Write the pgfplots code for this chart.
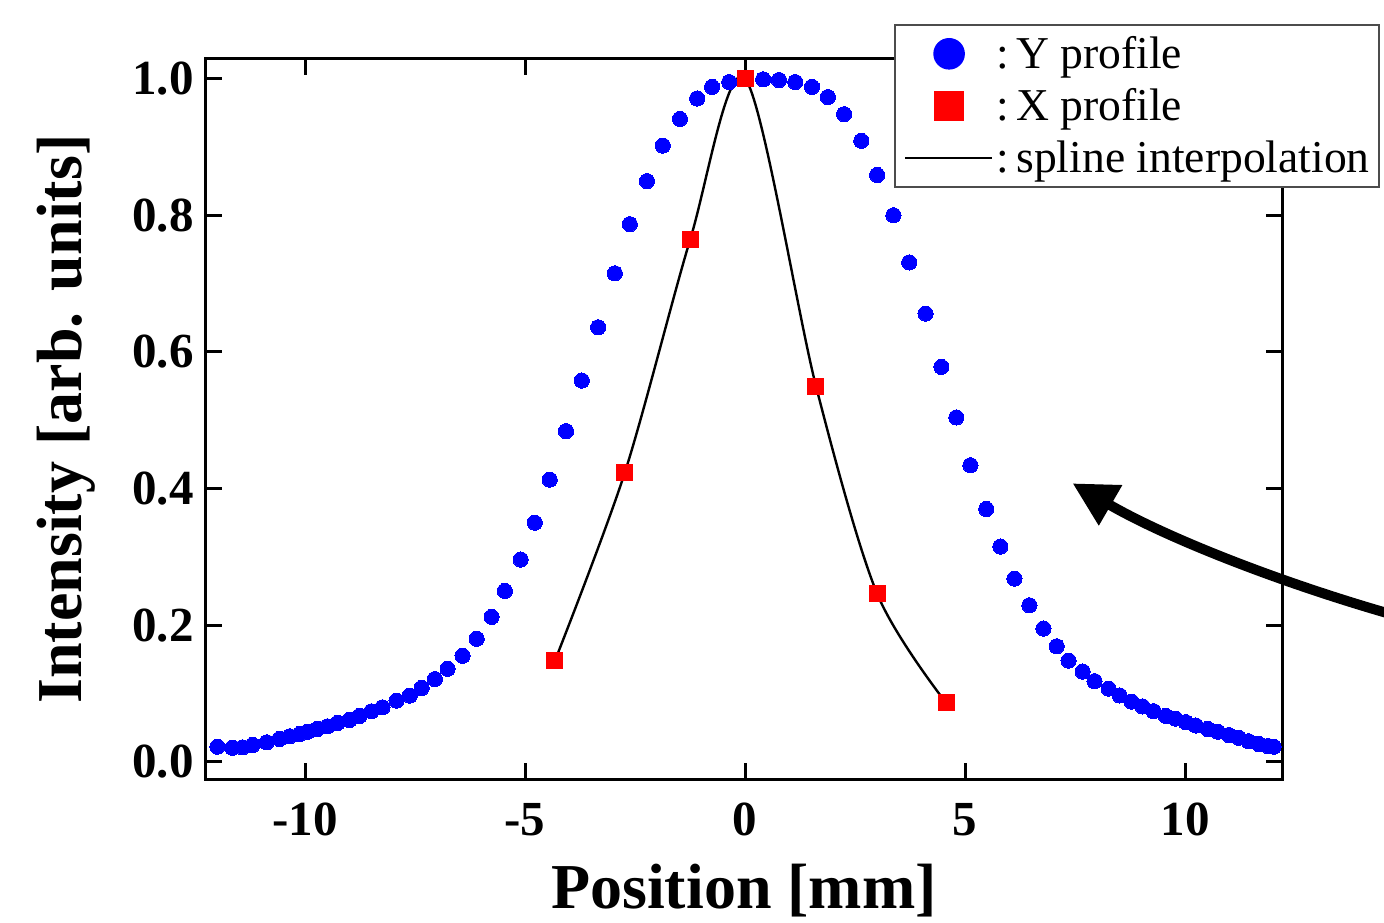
\documentclass[border=0pt]{standalone}
\usepackage{fontspec}
\setmainfont{Liberation Serif}
\usepackage{pgfplots}
\usepackage{pgfplotstable}
\pgfplotsset{compat=1.18}
\usetikzlibrary{arrows.meta}

% measured vertical profile
\pgfplotstableread{
x y
-11.99 0.022
-11.65 0.0205
-11.42 0.021
-11.19 0.0245
-10.87 0.0284
-10.58 0.0333
-10.35 0.0372
-10.12 0.0406
-9.94 0.044
-9.72 0.048
-9.49 0.0518
-9.26 0.0568
-8.99 0.0612
-8.76 0.067
-8.49 0.0738
-8.24 0.0796
-7.92 0.0894
-7.62 0.0968
-7.35 0.108
-7.05 0.121
-6.76 0.136
-6.42 0.155
-6.10 0.180
-5.76 0.212
-5.46 0.250
-5.10 0.296
-4.78 0.350
-4.44 0.413
-4.07 0.484
-3.71 0.558
-3.34 0.636
-2.96 0.715
-2.62 0.787
-2.23 0.850
-1.87 0.902
-1.48 0.941
-1.09 0.971
-0.75 0.988
-0.36 0.995
0.02 0.999
0.41 0.999
0.77 0.998
1.14 0.995
1.52 0.988
1.88 0.973
2.25 0.948
2.64 0.909
3.00 0.859
3.37 0.800
3.73 0.731
4.10 0.656
4.46 0.578
4.80 0.504
5.12 0.434
5.48 0.370
5.80 0.315
6.12 0.268
6.46 0.229
6.78 0.195
7.08 0.169
7.35 0.148
7.67 0.132
7.94 0.118
8.26 0.107
8.51 0.097
8.78 0.088
9.03 0.081
9.28 0.074
9.56 0.067
9.78 0.063
10.01 0.058
10.24 0.053
10.51 0.048
10.74 0.044
10.99 0.039
11.22 0.035
11.44 0.030
11.67 0.026
11.88 0.023
12.01 0.022
}\yprofile

% measured horizontal profile
\pgfplotstableread{
x y
-4.32 0.148
-2.73 0.424
-1.25 0.764
0.00 1.000
1.61 0.550
3.00 0.246
4.57 0.086
}\xprofile

\begin{document}
\begin{tikzpicture}
\begin{axis}[
  at={(0,0)}, anchor=south west,
  scale only axis, width=538pt, height=360pt,
  xmin=-12.25, xmax=12.2, ymin=-0.0253, ymax=1.0288,
  axis line style={line width=1.5pt},
  tick style={line width=1.5pt, black},
  major tick length=8pt,
  tick align=inside,
  xtick={-10,-5,0,5,10}, xticklabels={-10,-5,0,5,10},
  ytick={0,0.2,0.4,0.6,0.8,1.0}, yticklabels={0.0,0.2,0.4,0.6,0.8,1.0},
  minor tick num=0,
  ticklabel style={font=\fontsize{24.5}{29}\selectfont\bfseries},
  xticklabel style={inner sep=0pt, yshift=-12pt},
  yticklabel style={inner sep=0pt, xshift=-6pt},
  xlabel={Position [mm]}, ylabel={Intensity [arb. units]},
  label style={font=\fontsize{32}{38}\selectfont\bfseries, inner sep=0pt},
  xlabel style={at={(axis description cs:0.5,-0.118)}, anchor=north},
  ylabel style={at={(axis description cs:-0.157,0.5)}, anchor=north},
  clip=false,
  legend cell align=left,
  legend style={
    at={(axis description cs:0.6394,1.0486)}, anchor=north west,
    draw=black!70, line width=0.8pt, fill=white,
    inner xsep=4.5pt, inner ysep=4pt,
    row sep=5pt, column sep=1.5pt,
    font=\fontsize{22.8}{27}\selectfont,
    nodes={inner sep=0pt, text height=18pt, text depth=3pt},
  },
]
\addplot[only marks, mark=*, mark size=3.8pt, blue,
  mark options={fill=blue, draw=blue, line width=0pt},
  legend image code/.code={\path[draw=none, fill=none] (0,-8pt) rectangle (43.5pt,8pt);
    \fill[blue] (22pt,0) circle (7.5pt);}]
  table {\yprofile};
\addlegendentry{:\hspace{0.16em}Y profile}

\addplot[only marks, mark=square*, mark size=4pt, red,
  mark options={fill=red, draw=red, line width=0pt},
  legend image code/.code={\path[draw=none, fill=none] (0,-8pt) rectangle (43.5pt,8pt);
    \fill[red] (15pt,-7pt) rectangle (29pt,7pt);}]
  table {\xprofile};
\addlegendentry{:\hspace{0.16em}X profile}

\addplot[black, line width=1.2pt, smooth, tension=0.5, no marks,
  legend image code/.code={\path[draw=none, fill=none] (0,-8pt) rectangle (43.5pt,8pt);
    \draw[black, line width=1.3pt] (0,0) -- (43.5pt,0);}]
  table {\xprofile};
\addlegendentry{:\hspace{0.16em}spline interpolation}

% squares again so they sit above the curve
\addplot[only marks, mark=square*, mark size=4pt, red,
  mark options={fill=red, draw=red, line width=0pt}, forget plot]
  table {\xprofile};

\draw[line width=5pt, -{Triangle[length=22pt,width=22pt]}]
  (axis cs:15.36,0.2038) .. controls (axis cs:12.63,0.2507)
  and (axis cs:9.716,0.3226) .. (axis cs:7.44,0.4076);
\end{axis}
\pgfresetboundingbox
\path[use as bounding box] (-103pt,-71.5pt) rectangle (589pt,389.5pt);
\end{tikzpicture}
\end{document}
